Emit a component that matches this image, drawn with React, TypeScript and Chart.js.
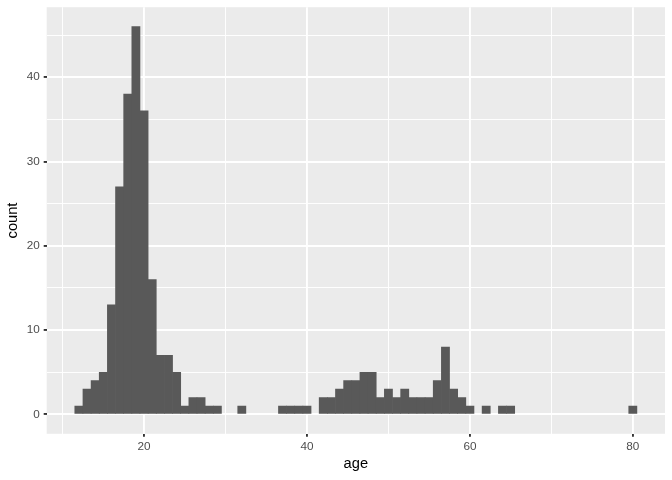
import { useEffect, useRef } from "react";
import { Chart, registerables } from "chart.js";

Chart.register(...registerables);

const ages = [
  12, 13, 14, 15, 16, 17, 18, 19, 20, 21, 22, 23, 24, 25, 26, 27, 28, 29, 30, 31,
  32, 33, 34, 35, 36, 37, 38, 39, 40, 41, 42, 43, 44, 45, 46, 47, 48, 49, 50, 51,
  52, 53, 54, 55, 56, 57, 58, 59, 60, 61, 62, 63, 64, 65, 66, 67, 68, 69, 70, 71,
  72, 73, 74, 75, 76, 77, 78, 79, 80,
];
const counts = [
  1, 3, 4, 5, 13, 27, 38, 46, 36, 16, 7, 7, 5, 1, 2, 2, 1, 1, 0, 0,
  1, 0, 0, 0, 0, 1, 1, 1, 1, 0, 2, 2, 3, 4, 4, 5, 5, 2, 3, 2,
  3, 2, 2, 2, 4, 8, 3, 2, 1, 0, 1, 0, 1, 1, 0, 0, 0, 0, 0, 0,
  0, 0, 0, 0, 0, 0, 0, 0, 1,
];
const xGridValues = [10, 20, 30, 40, 50, 60, 70, 80];
const xLabelValues = [20, 40, 60, 80];
const yGridValues = [0, 5, 10, 15, 20, 25, 30, 35, 40, 45];
const yLabelValues = [0, 10, 20, 30, 40];

const FONT = "'Liberation Sans', Arial, Helvetica, sans-serif";

const panelBg = {
  id: "panelBg",
  beforeDraw(chart: any) {
    const { ctx, chartArea } = chart;
    if (!chartArea) return;
    ctx.save();
    ctx.fillStyle = "#EBEBEB";
    ctx.fillRect(
      chartArea.left,
      chartArea.top,
      chartArea.right - chartArea.left,
      chartArea.bottom - chartArea.top
    );
    ctx.restore();
  },
};

export default function App() {
  const ref = useRef<HTMLCanvasElement | null>(null);

  useEffect(() => {
    if (!ref.current) return;
    const points = ages
      .map((a, i) => ({ x: a, y: counts[i] }))
      .filter((p) => p.y > 0);
    const chart = new Chart(ref.current, {
      type: "bar",
      data: {
        datasets: [
          {
            data: points,
            backgroundColor: "#595959",
            borderWidth: 0,
            barPercentage: 1,
            categoryPercentage: 1,
          } as any,
        ],
      },
      plugins: [panelBg],
      options: {
        responsive: false,
        animation: false,
        layout: { padding: { top: 7.2, right: 7, left: 0, bottom: 0 } },
        plugins: {
          legend: { display: false },
          tooltip: { enabled: false },
        },
        scales: {
          x: {
            type: "linear",
            offset: false,
            min: 8.05,
            max: 83.95,
            afterBuildTicks: (s: any) => {
              s.ticks = xGridValues.map((v) => ({ value: v }));
            },
            afterFit: (s: any) => {
              s.height = 46.2;
              s.paddingLeft = 0;
              s.paddingRight = 0;
              s.paddingTop = 0;
              s.paddingBottom = 0;
            },
            ticks: {
              autoSkip: false,
              maxRotation: 0,
              padding: 2.7,
              color: "#4D4D4D",
              font: { family: FONT, size: 11.73 },
              callback: (v: any) => (xLabelValues.includes(Number(v)) ? String(v) : ""),
            },
            grid: {
              offset: false,
              color: "#FFFFFF",
              lineWidth: (c: any) => (xLabelValues.includes(c.tick?.value) ? 1.9 : 0.95),
              tickLength: 3,
              tickWidth: 1.9,
              tickColor: (c: any) =>
                xLabelValues.includes(c.tick?.value) ? "#333333" : "rgba(0,0,0,0)",
            },
            border: { display: false },
            title: {
              display: true,
              text: "age",
              color: "#000000",
              font: { family: FONT, size: 14.67 },
              padding: { top: 0, bottom: 7.6 },
            },
          },
          y: {
            type: "linear",
            min: -2.3,
            max: 48.3,
            afterBuildTicks: (s: any) => {
              s.ticks = yGridValues.map((v) => ({ value: v }));
            },
            afterFit: (s: any) => {
              s.width = 46.7;
              s.paddingLeft = 0;
              s.paddingRight = 0;
              s.paddingTop = 0;
              s.paddingBottom = 0;
            },
            ticks: {
              autoSkip: false,
              padding: 4,
              color: "#4D4D4D",
              font: { family: FONT, size: 11.73 },
              callback: (v: any) => (yLabelValues.includes(Number(v)) ? String(v) : ""),
            },
            grid: {
              color: "#FFFFFF",
              lineWidth: (c: any) => (yLabelValues.includes(c.tick?.value) ? 1.9 : 0.95),
              tickLength: 3,
              tickWidth: 1.9,
              tickColor: (c: any) =>
                yLabelValues.includes(c.tick?.value) ? "#333333" : "rgba(0,0,0,0)",
            },
            border: { display: false },
            title: {
              display: true,
              text: "count",
              color: "#000000",
              font: { family: FONT, size: 14.67 },
              padding: { top: 4.4, bottom: 0 },
            },
          },
        },
      } as any,
    });
    return () => chart.destroy();
  }, []);

  return (
    <div style={{ position: "absolute", left: 0, top: 0, width: 672, height: 480 }}>
      <canvas ref={ref} width={672} height={480} />
    </div>
  );
}
